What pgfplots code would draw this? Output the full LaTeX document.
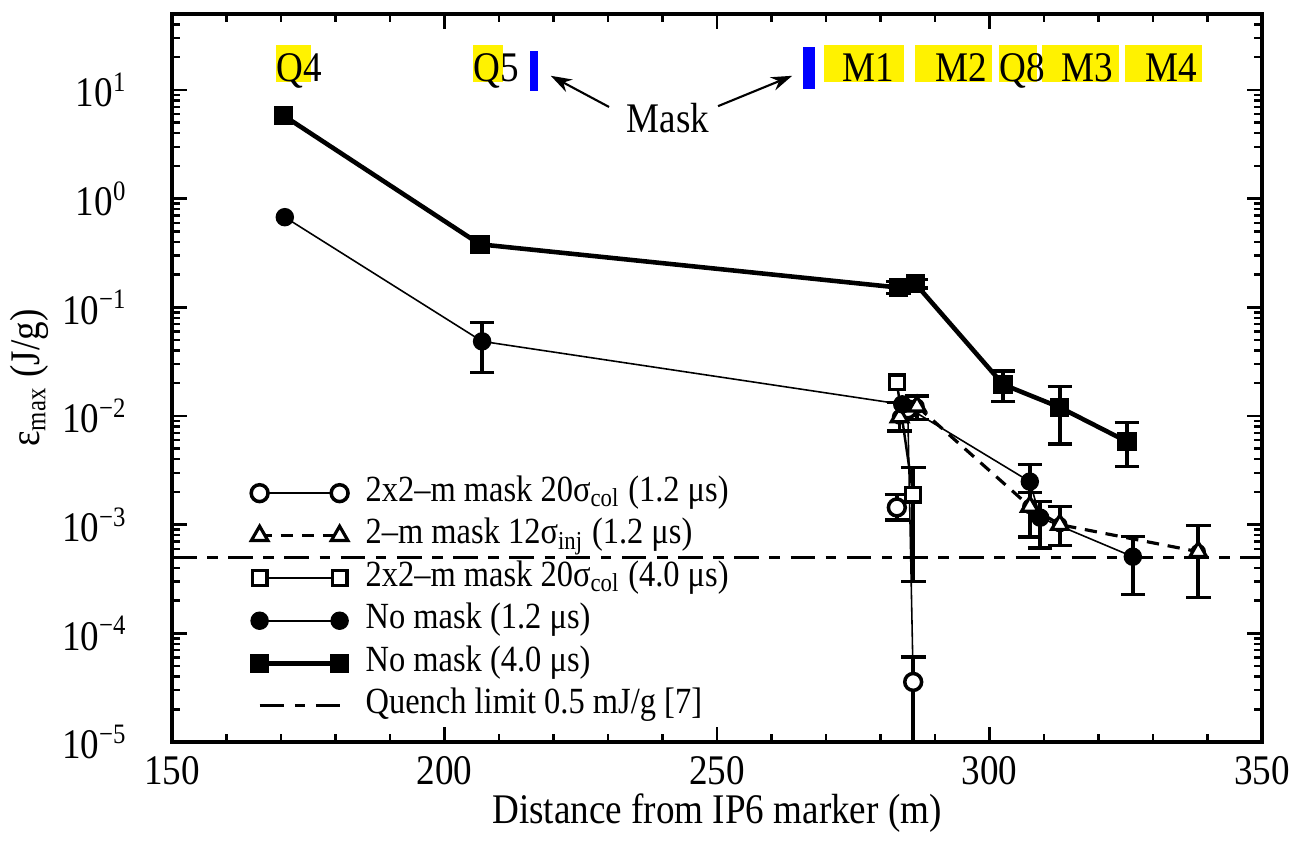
\documentclass[border=0pt]{standalone}
\usepackage{fontspec}
\setmainfont{Liberation Serif}[FakeStretch=0.88]
\usepackage{pgfplots}
\pgfplotsset{compat=1.18}
\usetikzlibrary{arrows.meta}

% series: x, y, upper and lower error
\pgfplotstableread{
x y
283.0 0.00144
}\ocircA
\pgfplotstableread{
x y
285.0 0.0115
286.0 3.57e-5
}\ocircB
\pgfplotstableread{
x y ep em
283.0 0.00144 0.00045 0.00034
286.0 3.57e-5 2.5e-5 2.57e-5
}\ocircErr
\pgfplotstableread{
x y
283.5 0.0098
286.7 0.0123
307.4 0.00147
312.9 0.00100
338.3 0.000564
}\tri
\pgfplotstableread{
x y ep em
283.5 0.0098 0.0035 0.0025
286.7 0.0123 0.0030 0.0030
307.4 0.00147 0.0005 0.0007
312.9 0.00100 0.00047 0.00036
338.3 0.000564 0.00042 0.00035
}\triErr
\pgfplotstableread{
x y
283.0 0.0204
286.0 0.00189
}\osq
\pgfplotstableread{
x y ep em
286.0 0.00189 0.00146 0.00159
}\osqErr
\pgfplotstableread{
x y
170.7 0.675
206.9 0.0486
284.0 0.0128
307.4 0.00249
309.3 0.00116
326.3 0.000507
}\fcirc
\pgfplotstableread{
x y ep em
206.9 0.0486 0.0242 0.0234
307.4 0.00249 0.00108 0.00173
309.3 0.00116 0.00047 0.00055
326.3 0.000507 0.00027 0.00028
}\fcircErr
\pgfplotstableread{
x y
170.5 5.8
206.5 0.38
283.3 0.152
286.4 0.165
302.5 0.0195
312.9 0.0120
325.2 0.00582
}\fsq
\pgfplotstableread{
x y ep em
283.3 0.152 0.02 0.018
286.4 0.165 0.015 0.015
302.5 0.0195 0.0065 0.0059
312.9 0.0120 0.0067 0.0065
325.2 0.00582 0.0029 0.0024
}\fsqErr

\begin{document}
\fontsize{12}{14}\selectfont
\begin{tikzpicture}
\begin{axis}[
    scale only axis,
    width=10.9cm, height=7.28cm,
    xmin=150, xmax=350,
    ymode=log, ymin=1e-5, ymax=50,
    xtick={150,200,...,350},
    minor x tick num=4,
    tick align=inside,
    major tick length=0.15cm,
    minor tick length=0.08cm,
    axis line style={line width=0.9pt},
    every tick/.style={black, line width=0.7pt},
    /pgf/number format/assume math mode=true,
    yticklabel={\pgfmathtruncatemacro{\myexp}{round(\tick/ln(10))}10\textsuperscript{\ifnum\myexp<0 −\the\numexpr-\myexp\relax\else\myexp\fi}},
    yticklabel style={xshift=-0.3cm},
    xlabel={Distance from IP6 marker (m)},
    xlabel style={yshift=0.2cm},
    ylabel={ε\textsubscript{max} (J/g)},
    ylabel style={at={(axis description cs:-0.10,0.5)}, anchor=south},
    legend image code/.code={\draw[#1] plot coordinates {(0cm,0cm) (0.8cm,0cm)};},
    legend style={at={(rel axis cs:0.072,0.372)}, anchor=north west,
        draw=none, fill=none, inner sep=0pt, column sep=4pt,
        font=\fontsize{10.5}{12}\selectfont,
        nodes={inner sep=1pt, text height=7.3pt, text depth=2.8pt}},
    legend cell align=left,
    error bars/error bar style={line width=1pt, solid},
    error bars/error mark options={rotate=90, mark size=3.5pt, line width=1pt, solid},
]
% error bars
\addplot[forget plot, only marks, mark=none, error bars/.cd, y dir=both, y explicit]
    table[x=x, y=y, y error plus=ep, y error minus=em] {\ocircErr};
\addplot[forget plot, only marks, mark=none, error bars/.cd, y dir=both, y explicit]
    table[x=x, y=y, y error plus=ep, y error minus=em] {\triErr};
\addplot[forget plot, only marks, mark=none, error bars/.cd, y dir=both, y explicit]
    table[x=x, y=y, y error plus=ep, y error minus=em] {\osqErr};
\addplot[forget plot, only marks, mark=none, error bars/.cd, y dir=both, y explicit]
    table[x=x, y=y, y error plus=ep, y error minus=em] {\fcircErr};
\addplot[forget plot, only marks, mark=none, error bars/.cd, y dir=both, y explicit]
    table[x=x, y=y, y error plus=ep, y error minus=em] {\fsqErr};

% quench limit
\addplot[forget plot, black, line width=0.9pt, dash pattern=on 7pt off 3pt on 3pt off 3pt]
    coordinates {(150,5e-4) (350,5e-4)};

\addplot[forget plot, only marks, mark=*, mark size=2.4pt, mark options={fill=white, line width=1pt}]
    table {\ocircA};
\addplot[black, line width=0.45pt, mark=*, mark size=2.4pt, mark options={fill=white, line width=1pt}]
    table {\ocircB};
\addlegendentry{2x2–m mask 20σ\textsubscript{col} (1.2 μs)}
\addplot[black, line width=0.9pt, dash pattern=on 3.5pt off 2.5pt, mark=triangle*, mark size=2.7pt, mark options={solid, fill=white, line width=0.9pt}]
    table {\tri};
\addlegendentry{2–m mask 12σ\textsubscript{inj} (1.2 μs)}
\addplot[black, line width=0.7pt, mark=square*, mark size=2.1pt, mark options={fill=white, line width=0.9pt}]
    table {\osq};
\addlegendentry{2x2–m mask 20σ\textsubscript{col} (4.0 μs)}
\addplot[black, line width=0.45pt, mark=*, mark size=2.4pt, mark options={fill=black}]
    table {\fcirc};
\addlegendentry{No mask (1.2 μs)}
\addplot[black, line width=1.3pt, mark=square*, mark size=2.1pt, mark options={fill=black}]
    table {\fsq};
\addlegendentry{No mask (4.0 μs)}
\addlegendimage{black, line width=0.9pt, dash pattern=on 7pt off 3pt on 3pt off 3pt}
\addlegendentry{Quench limit 0.5 mJ/g [7]}

% magnet labels
\fill[yellow] (axis cs:169.1,11.8) rectangle (axis cs:175.5,26);
\fill[yellow] (axis cs:205.2,11.8) rectangle (axis cs:210.7,26);
\fill[yellow] (axis cs:269.6,11.8) rectangle (axis cs:284.3,26);
\fill[yellow] (axis cs:286.3,11.8) rectangle (axis cs:300.5,26);
\fill[yellow] (axis cs:301.7,11.8) rectangle (axis cs:308.7,26);
\fill[yellow] (axis cs:309.6,11.8) rectangle (axis cs:323.8,26);
\fill[yellow] (axis cs:324.9,11.8) rectangle (axis cs:339.0,26);
\fill[blue] (axis cs:215.7,9.8) rectangle (axis cs:217.2,22.9);
\fill[blue] (axis cs:265.8,10.2) rectangle (axis cs:268.0,24.9);
\node[anchor=base west, inner sep=0pt] at (axis cs:169.1,12) {Q4};
\node[anchor=base west, inner sep=0pt] at (axis cs:205.2,12) {Q5};
\node[anchor=base, inner sep=0pt] at (axis cs:277.7,12) {M1};
\node[anchor=base, inner sep=0pt] at (axis cs:294.8,12) {M2};
\node[anchor=base west, inner sep=0pt] at (axis cs:301.7,12) {Q8};
\node[anchor=base, inner sep=0pt] at (axis cs:317.9,12) {M3};
\node[anchor=base, inner sep=0pt] at (axis cs:333.3,12) {M4};
\node[anchor=base, inner sep=0pt] at (axis cs:241,4.1) {Mask};
\draw[-{Stealth[length=6pt,width=4pt]}, line width=0.6pt] (axis cs:230.2,6.97) -- (axis cs:219.5,13.5);
\draw[-{Stealth[length=6pt,width=4pt]}, line width=0.6pt] (axis cs:250.2,7.1) -- (axis cs:263.8,13.5);
\end{axis}
\pgfresetboundingbox
\path[use as bounding box] ([shift={(-1.72cm,-1.01cm)}]current axis.south west) rectangle ([shift={(0.33cm,0.14cm)}]current axis.north east);
\end{tikzpicture}
\end{document}
